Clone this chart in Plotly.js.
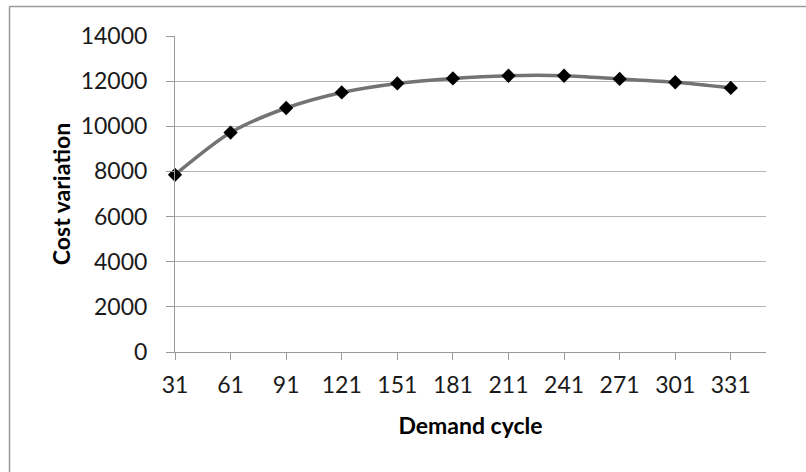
<!DOCTYPE html>
<html>
<head>
<meta charset="utf-8">
<script src="https://cdn.plot.ly/plotly-3.0.1.min.js"></script>
<style>
html,body{margin:0;padding:0;background:#fff;}
#chart{width:806px;height:472px;}
</style>
</head>
<body>
<div id="chart"></div>
<script>
const demandCycle = [31, 61, 91, 121, 151, 181, 211, 241, 271, 301, 331];
const costVariation = [7850, 9720, 10810, 11500, 11900, 12120, 12240, 12240, 12100, 11950, 11700];
const xTickLabels = ['31','61','91','121','151','181','211','241','271','301','331'];
const yTickValues = [0, 2000, 4000, 6000, 8000, 10000, 12000, 14000];

const FONT = 'Lato, "Open Sans", sans-serif';

const trace = {
  x: demandCycle,
  y: costVariation,
  type: 'scatter',
  mode: 'lines+markers',
  line: {color: '#737373', width: 3.5, shape: 'spline', smoothing: 0.8},
  marker: {symbol: 'diamond', size: 11, color: '#000000', line: {width: 0}},
  cliponaxis: false,
  hoverinfo: 'x+y'
};

const layout = {
  width: 806,
  height: 472,
  margin: {l: 175, r: 40, t: 36, b: 120},
  paper_bgcolor: '#ffffff',
  plot_bgcolor: '#ffffff',
  showlegend: false,
  font: {family: FONT, color: '#1a1a1a', size: 23},
  xaxis: {
    range: [31, 350],
    tickmode: 'array',
    tickvals: demandCycle,
    ticktext: xTickLabels,
    showgrid: false,
    zeroline: false,
    showline: true,
    linecolor: '#9a9a9a',
    linewidth: 1,
    ticks: 'outside',
    ticklen: 7,
    tickcolor: '#9a9a9a',
    ticklabelstandoff: 5,
    tickfont: {family: FONT, size: 23, color: '#1a1a1a'},
    title: {text: 'Demand cycle', font: {family: FONT, size: 23, color: '#000', weight: 'bold'}, standoff: 21}
  },
  yaxis: {
    range: [0, 14000],
    tickmode: 'array',
    tickvals: yTickValues,
    ticktext: yTickValues.map(String),
    showgrid: true,
    gridcolor: '#b3b3b3',
    gridwidth: 1,
    zeroline: false,
    showline: true,
    linecolor: '#9a9a9a',
    linewidth: 1,
    ticks: 'outside',
    ticklen: 8,
    tickcolor: '#9a9a9a',
    ticklabelstandoff: 14,
    tickfont: {family: FONT, size: 23, color: '#1a1a1a'},
    title: {text: 'Cost variation', font: {family: FONT, size: 23, color: '#000', weight: 'bold'}, standoff: 3}
  },
  shapes: [
    {type: 'line', xref: 'paper', yref: 'paper',
     x0: (9.5 - 175) / 591, x1: (806 - 175) / 591,
     y0: (472 - 120 - 6.5) / 316, y1: (472 - 120 - 6.5) / 316,
     line: {color: '#9a9a9a', width: 1.5}},
    {type: 'line', xref: 'paper', yref: 'paper',
     x0: (9.5 - 175) / 591, x1: (9.5 - 175) / 591,
     y0: (472 - 120 - 6.5) / 316, y1: -120 / 316,
     line: {color: '#9a9a9a', width: 1.5}}
  ]
};

Plotly.newPlot('chart', [trace], layout, {displayModeBar: false, staticPlot: true});
</script>
</body>
</html>
